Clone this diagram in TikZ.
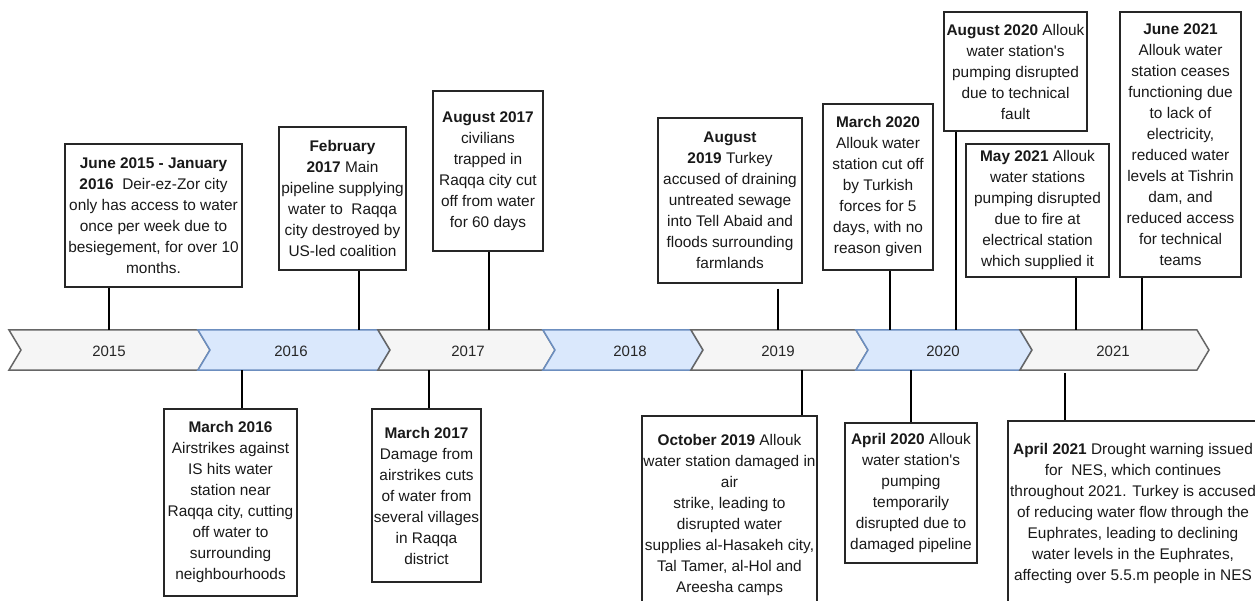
\documentclass[tikz,border=0pt]{standalone}
\usepackage{fontspec}
\setmainfont{Liberation Sans}[Ligatures=TeXOff]
\definecolor{gfill}{HTML}{F5F5F5}
\definecolor{gline}{HTML}{666666}
\definecolor{bfill}{HTML}{DAE8FC}
\definecolor{bline}{HTML}{6C8EBF}
\tikzset{
  ev/.style={draw=black!85, line width=1.2pt, fill=white, inner sep=0pt, align=center,
    font=\fontsize{15.4}{21}\selectfont, text=black!90},
  conn/.style={line width=2pt, draw=black},
  chevg/.style={draw=gline, fill=gfill, line width=1.5pt, line join=miter},
  chevb/.style={draw=bline, fill=bfill, line width=1.5pt, line join=miter},
  yr/.style={font=\fontsize{15}{18}\selectfont, text=black!85, inner sep=0pt}
}
\begin{document}
\begin{tikzpicture}[x=1pt, y=-1pt]
\useasboundingbox (0,0) rectangle (1255,601);
\clip (0,0) rectangle (1255,601);
\fill[white] (0,0) rectangle (1255,601);

% timeline chevrons
\draw[chevg] (9,330) -- (198,330) -- (210,350) -- (198,370) -- (9,370) -- (21,350) -- cycle;
\draw[chevb] (198,330) -- (378,330) -- (390,350) -- (378,370) -- (198,370) -- (210,350) -- cycle;
\draw[chevg] (378,330) -- (543,330) -- (555,350) -- (543,370) -- (378,370) -- (390,350) -- cycle;
\draw[chevb] (543,330) -- (691,330) -- (703,350) -- (691,370) -- (543,370) -- (555,350) -- cycle;
\draw[chevg] (691,330) -- (856,330) -- (868,350) -- (856,370) -- (691,370) -- (703,350) -- cycle;
\draw[chevb] (856,330) -- (1020,330) -- (1032,350) -- (1020,370) -- (856,370) -- (868,350) -- cycle;
\draw[chevg] (1020,330) -- (1197,330) -- (1209,350) -- (1197,370) -- (1020,370) -- (1032,350) -- cycle;

\node[yr] (y2015) at (109,351) {2015};
\node[yr] (y2016) at (291,351) {2016};
\node[yr] (y2017) at (468,351) {2017};
\node[yr] (y2018) at (630,351) {2018};
\node[yr] (y2019) at (778,351) {2019};
\node[yr] (y2020) at (943,351) {2020};
\node[yr] (y2021) at (1113,351) {2021};

% anchor points on the timeline
\coordinate (t1) at (109,330);
\coordinate (t2) at (359,330);
\coordinate (t3) at (489,330);
\coordinate (t4) at (778,330);
\coordinate (t5) at (890,330);
\coordinate (t6) at (956,330);
\coordinate (t7) at (1076,330);
\coordinate (t8) at (1142,330);
\coordinate (b1) at (242,370);
\coordinate (b2) at (429,370);
\coordinate (b3) at (802,370);
\coordinate (b4) at (911,370);
\coordinate (b5) at (1065,370);

% events above
\node[ev, minimum width=177, minimum height=143] (jun15) at (153.5,215.5)
 {\textbf{June 2015 - January}\\ \textbf{2016}\ \ Deir-ez-Zor city\\ only has access to water\\ once per week due to\\ besiegement, for over 10\\ months.};
\node[ev, minimum width=127, minimum height=143] (feb17) at (342.5,198.5)
 {\textbf{February}\\ \textbf{2017} Main\\ pipeline supplying\\ water to\ \ Raqqa\\ city destroyed by\\ US-led coalition};
\node[ev, minimum width=110, minimum height=160] (aug17) at (488,171)
 {\textbf{August 2017}\\ civilians\\ trapped in\\ Raqqa city cut\\ off from water\\ for 60 days};
\node[ev, minimum width=144, minimum height=165] (aug19) at (730,200.5)
 {\textbf{August}\\ \textbf{2019} Turkey\\ accused of draining\\ untreated sewage\\ into Tell Abaid and\\ floods surrounding\\ farmlands};
\node[ev, minimum width=110, minimum height=166] (mar20) at (878,187)
 {\textbf{March 2020}\\ Allouk water\\ station cut off\\ by Turkish\\ forces for 5\\ days, with no\\ reason given};
\node[ev, minimum width=143, minimum height=119] (aug20) at (1015.5,71.5)
 {\textbf{August 2020} Allouk\\ water station's\\ pumping disrupted\\ due to technical\\ fault};
\node[ev, minimum width=143, minimum height=133] (may21) at (1037.5,210.5)
 {\textbf{May 2021} Allouk\\ water stations\\ pumping disrupted\\ due to fire at\\ electrical station\\ which supplied it};
\node[ev, minimum width=121, minimum height=265] (jun21) at (1180.5,144.5)
 {\textbf{June 2021}\\ Allouk water\\ station ceases\\ functioning due\\ to lack of\\ electricity,\\ reduced water\\ levels at Tishrin\\ dam, and\\ reduced access\\ for technical\\ teams};

% events below
\node[ev, minimum width=133, minimum height=187] (mar16) at (230.5,502.5)
 {\textbf{March 2016}\\ Airstrikes against\\ IS hits water\\ station near\\ Raqqa city, cutting\\ off water to\\ surrounding\\ neighbourhoods};
\node[ev, minimum width=109, minimum height=173] (mar17) at (426.5,495.5)
 {\textbf{March 2017}\\ Damage from\\ airstrikes cuts\\ of water from\\ several villages\\ in Raqqa\\ district};
\node[ev, minimum width=175, minimum height=198] (oct19) at (729.5,515)
 {\textbf{October 2019} Allouk\\ water station damaged in\\ air\\ strike, leading to\\ disrupted water\\ supplies al-Hasakeh city,\\ Tal Tamer, al-Hol and\\ Areesha camps};
\node[ev, minimum width=132, minimum height=140] (apr20) at (911,493)
 {\textbf{April 2020} Allouk\\ water station's\\ pumping\\ temporarily\\ disrupted due to\\ damaged pipeline};
\node[ev, minimum width=250, minimum height=186] (apr21) at (1133,514)
 {\textbf{April 2021} Drought warning issued\\ for\ \ NES, which continues\\ throughout 2021. Turkey is accused\\ of reducing water flow through the\\ Euphrates, leading to declining\\ water levels in the Euphrates,\\ affecting over 5.5.m people in NES};

% connectors
\draw[conn] (t1 |- jun15.south) -- (t1);
\draw[conn] (t2 |- feb17.south) -- (t2);
\draw[conn] (t3 |- aug17.south) -- (t3);
\draw[conn] ([yshift=-5pt]t4 |- aug19.south) -- (t4);
\draw[conn] (t5 |- mar20.south) -- (t5);
\draw[conn] (t6 |- aug20.south) -- (t6);
\draw[conn] (t7 |- may21.south) -- (t7);
\draw[conn] (t8 |- jun21.south) -- (t8);
\draw[conn] (b1) -- (b1 |- mar16.north);
\draw[conn] (b2) -- (b2 |- mar17.north);
\draw[conn] (b3) -- (b3 |- oct19.north);
\draw[conn] (b4) -- (b4 |- apr20.north);
\draw[conn] ([yshift=-3pt]b5) -- (b5 |- apr21.north);
\end{tikzpicture}
\end{document}
